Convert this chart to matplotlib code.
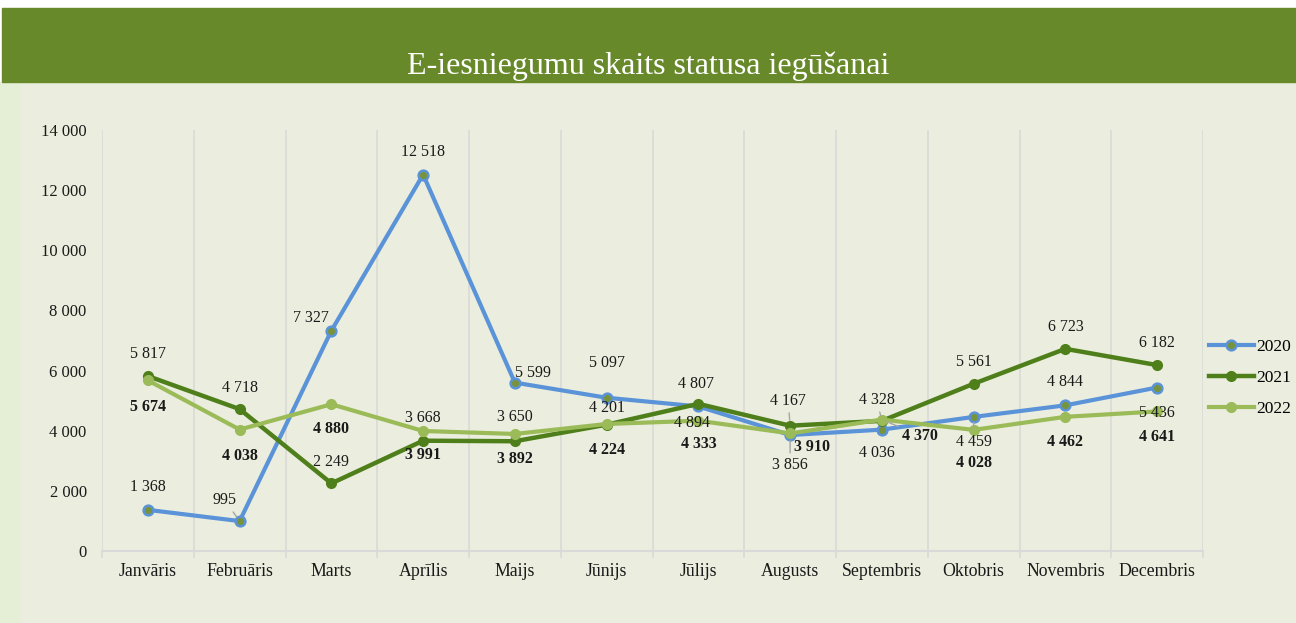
import numpy as np
import matplotlib.pyplot as plt
from matplotlib.patches import Rectangle

plt.rcParams['font.family'] = ['Liberation Serif', 'DejaVu Serif']

months = ['Janvāris', 'Februāris', 'Marts', 'Aprīlis', 'Maijs', 'Jūnijs',
          'Jūlijs', 'Augusts', 'Septembris', 'Oktobris', 'Novembris', 'Decembris']
y2020 = [1368, 995, 7327, 12518, 5599, 5097, 4807, 3856, 4036, 4459, 4844, 5436]
y2021 = [5817, 4718, 2249, 3668, 3650, 4201, 4894, 4167, 4328, 5561, 6723, 6182]
y2022 = [5674, 4038, 4880, 3991, 3892, 4224, 4333, 3910, 4370, 4028, 4462, 4641]
yticks = [0, 2000, 4000, 6000, 8000, 10000, 12000, 14000]

# label offsets in pixels (dx, dy up)
off2020 = [(0, 23), (-15, 21), (-20, 13), (0, 23), (18, 10), (0, 35),
           (-2, 22), (0, -30), (-5, -23), (0, -25), (0, 23), (0, -25)]
off2021 = [(0, 22), (0, 21), (0, 21), (0, 23), (0, 24), (0, 17),
           (-6, -19), (-2, 25), (-5, 21), (0, 22), (0, 22), (0, 22)]
off2022 = [(0, -27), (0, -26), (0, -25), (0, -24), (0, -25), (0, -26),
           (0, -23), (22, -14), (38, -16), (0, -33), (0, -25), (0, -26)]
leaders2020 = {1, 7, 9}
leaders2021 = {7, 8}
leaders2022 = {8}

W, H = 1296, 623
fig = plt.figure(figsize=(W / 100, H / 100), dpi=100, facecolor='white')

# backgrounds
fig.patches.append(Rectangle((0, 0), 1, 1 - 82 / H, transform=fig.transFigure,
                             color='#ebeede', zorder=-3))
fig.patches.append(Rectangle((0, 0), 19 / W, 1 - 82 / H, transform=fig.transFigure,
                             color='#e4efd6', zorder=-2))
fig.patches.append(Rectangle((2 / W, 1 - 82 / H), 1, 74 / H, transform=fig.transFigure,
                             color='#67892a', zorder=-2))
fig.text(0.5, 1 - 74 / H, 'E-iesniegumu skaits statusa iegūšanai', color='white',
         fontsize=23, ha='center', va='baseline')

ax = fig.add_axes([102 / W, 1 - 551 / H, 1101 / W, 421 / H])
ax.set_facecolor('none')
x = np.arange(len(months))

blue, dgreen, lgreen = '#5b93d9', '#4f7f1a', '#9bbb59'
ax.plot(x, y2020, color=blue, lw=3, marker='o', ms=7, mfc='#77933c', mec=blue,
        mew=1.8, label='2020', zorder=3)
ax.plot(x, y2021, color=dgreen, lw=3.2, marker='o', ms=7, mfc=dgreen, mec=dgreen,
        label='2021', zorder=4)
ax.plot(x, y2022, color=lgreen, lw=3, marker='o', ms=7, mfc=lgreen, mec=lgreen,
        label='2022', zorder=5)


def fmt(v):
    return f'{v:,}'.replace(',', ' ')


def labels(vals, offs, leaders, weight):
    for i, (v, (dx, dy)) in enumerate(zip(vals, offs)):
        kw = {}
        if i in leaders:
            kw['arrowprops'] = dict(arrowstyle='-', color='#a6a6a6', lw=1,
                                    shrinkA=1, shrinkB=4)
        ax.annotate(fmt(v), (i, v), xytext=(dx, dy), textcoords='offset pixels',
                    ha='center', va='center', fontsize=11.5, fontweight=weight,
                    color='#1a1a1a', zorder=6, **kw)


labels(y2020, off2020, leaders2020, 'normal')
labels(y2021, off2021, leaders2021, 'normal')
labels(y2022, off2022, leaders2022, 'bold')

ax.set_xlim(-0.5, len(months) - 0.5)
ax.set_ylim(0, 14000)
ax.set_yticks(yticks)
ax.set_yticklabels([fmt(v) for v in yticks])
ax.set_xticks(x)
ax.set_xticklabels(months)
ax.set_xticks(np.arange(-0.5, len(months)), minor=True)
ax.tick_params(axis='y', length=0, pad=11, labelsize=12, labelcolor='#1a1a1a')
ax.tick_params(axis='x', which='major', length=0, pad=9, labelsize=12.8,
               labelcolor='#1a1a1a')
ax.tick_params(axis='x', which='minor', length=5, width=1.2, color='#d9d9d9')
ax.grid(axis='x', which='minor', color='#d9d9d9', lw=1.2)
ax.grid(axis='x', which='major', visible=False)
for s in ['top', 'right', 'left']:
    ax.spines[s].set_visible(False)
ax.spines['bottom'].set_color('#d9d9d9')
ax.spines['bottom'].set_linewidth(1.5)

fig.legend(loc='center left', bbox_to_anchor=(1200 / W, 1 - 378 / H),
           frameon=False, fontsize=12.5, handlelength=2.6, labelspacing=0.85,
           handletextpad=0.15, borderpad=0)

fig.savefig('out.png', dpi=100)
